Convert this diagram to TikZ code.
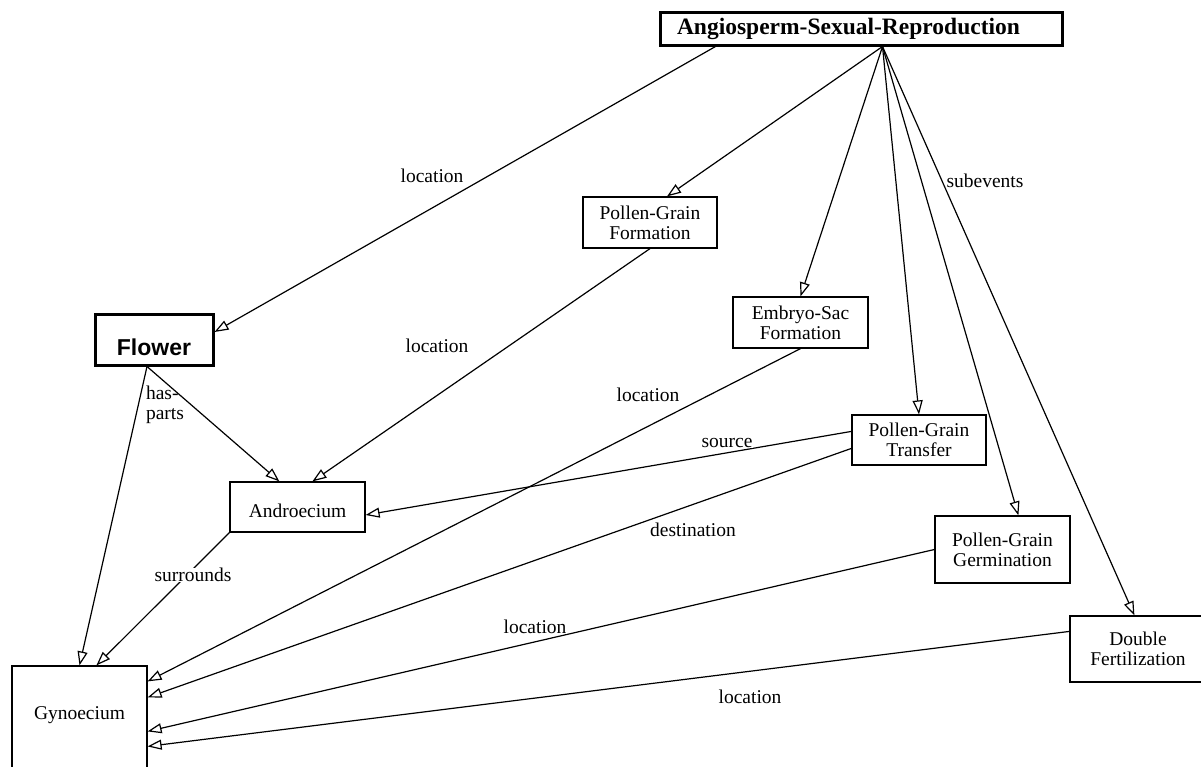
\documentclass[tikz,border=0pt]{standalone}
\usepackage{fontspec}
\setmainfont{Liberation Serif}
\newfontfamily\headsans{Liberation Sans}
\usetikzlibrary{arrows.meta}
\begin{document}
\begin{tikzpicture}[x=1pt,y=-1pt,
  box/.style={draw,line width=1.2pt,inner sep=0pt,align=center,
    font=\fontsize{19.5}{20}\selectfont},
  thickbox/.style={box,line width=3pt},
  rel/.style={line width=1.2pt,
    -{Triangle[open,length=14pt,width=10pt,line width=1.2pt]}},
  lbl/.style={fill=white,inner sep=0.5pt,font=\fontsize{19.5}{20}\selectfont}]
\useasboundingbox (0,0) rectangle (1201,766);
\clip (0,0) rectangle (1201,766);

% concept boxes
\node[thickbox,text width=368pt,inner xsep=17pt,align=left,minimum height=33pt,
  font=\fontsize{23.5}{24}\selectfont\bfseries] (asr) at (861,28.5)
  {Angiosperm-Sexual-Reproduction};
\node[thickbox,minimum width=118pt,minimum height=51pt,text height=31pt,text depth=0pt,
  font=\fontsize{23}{24}\selectfont\headsans\bfseries] (flower) at (154,339.5) {Flower};
\node[box,minimum width=134pt,minimum height=51pt] (pgf) at (650,222.5) {Pollen-Grain\\Formation};
\node[box,minimum width=135pt,minimum height=51pt] (es) at (800.5,322.5) {Embryo-Sac\\Formation};
\node[box,minimum width=134pt,minimum height=50pt] (pgt) at (919,440) {Pollen-Grain\\Transfer};
\node[box,minimum width=135pt,minimum height=67pt] (pgg) at (1002.5,549.5) {Pollen-Grain\\Germination};
\node[box,minimum width=136pt,minimum height=66pt] (df) at (1138,649) {Double\\Fertilization};
\node[box,minimum width=135pt,minimum height=50pt,text height=20pt,text depth=0pt] (andro) at (297.5,507) {Androecium};
\node[box,minimum width=135pt,minimum height=134pt,text height=0pt,text depth=28pt] (gyno) at (79.5,733) {Gynoecium};

% relations
\draw[rel] ([xshift=57pt]asr.south west) -- ([yshift=7.5pt]flower.east);
\draw[rel] ([xshift=224pt]asr.south west) -- ([xshift=17pt]pgf.north);
\draw[rel] ([xshift=224pt]asr.south west) -- (es.north);
\draw[rel] ([xshift=224pt]asr.south west) -- (pgt.north);
\draw[rel] ([xshift=224pt]asr.south west) -- ([xshift=84pt]pgg.north west);
\draw[rel] ([xshift=224pt]asr.south west) -- ([xshift=65pt]df.north west);
\draw[rel] ([xshift=-7pt]flower.south) -- (gyno.north);
\draw[rel] ([xshift=-7pt]flower.south) -- ([xshift=50pt]andro.north west);
\draw[rel] (pgf.south) -- ([xshift=83pt]andro.north west);
\draw[rel] (andro.south west) -- ([xshift=85pt]gyno.north west);
\draw[rel] (es.south) -- ([yshift=-16pt]gyno.north east);
\draw[rel] ([yshift=-17pt]pgt.north west) -- ([yshift=-8pt]andro.east);
\draw[rel] ([yshift=-34pt]pgt.north west) -- ([yshift=-32pt]gyno.north east);
\draw[rel] (pgg.west) -- ([yshift=-66pt]gyno.north east);
\draw[rel] ([yshift=-16pt]df.north west) -- ([yshift=-81pt]gyno.north east);

% relation labels
\node[lbl] (l1) at (432,176) {location};
\node[lbl] (l2) at (985,181) {subevents};
\node[lbl] (l3) at (437,346) {location};
\node[lbl] (l4) at (648,395) {location};
\node[lbl] (l5) at (727,443) {source};
\node[lbl] (l6) at (693,530) {destination};
\node[lbl] (l7) at (535,627) {location};
\node[lbl] (l8) at (750,697) {location};
\node[lbl] (l9) at (193,575) {surrounds};
\node[lbl,align=left,fill=none] (l10) at (165,405) {has-\\parts};
\end{tikzpicture}
\end{document}
